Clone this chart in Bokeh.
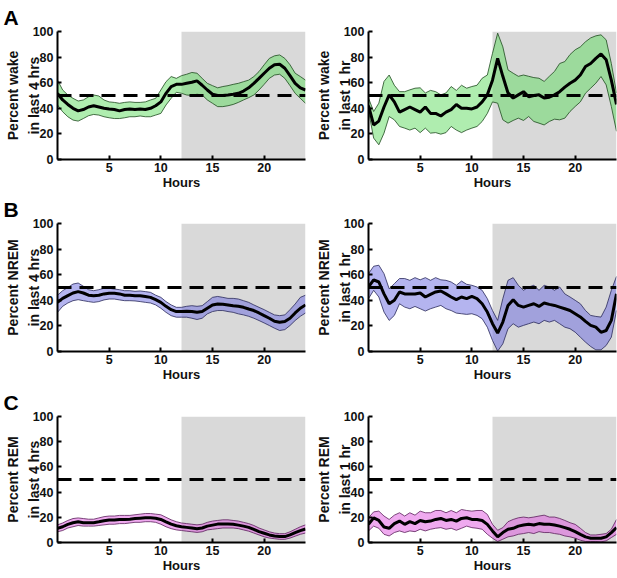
from bokeh.plotting import figure
from bokeh.layouts import column, row
from bokeh.models import FixedTicker, Range1d, Title
from bokeh.embed import file_html
from bokeh.resources import INLINE

# hours sampled every 0.5 h
hours = [i * 0.5 for i in range(49)]
x_ticks = [5, 10, 15, 20]
y_ticks = [0, 20, 40, 60, 80, 100]
dark_start, dark_end = 12, 24
chance_level = 50

wake4_mean = [51.7,46.5,43,40,38,39,41,42,41,40,39.4,39,38,39,39.4,39,39.4,39,40,42,45,51.7,57,58.7,58.7,59.5,60.3,61.4,58,54.3,51,50,50,50.4,51,51.7,53.5,56,59.5,63.4,67.4,71.3,74,74.4,71.3,65.5,59.5,56,54.3]
wake4_hi = [62,54.3,50.4,47.8,45.7,46.5,49,50.4,49.6,46.5,45,44.6,43.9,44.6,45,44.6,44.6,45,46.5,47.8,54.3,60.8,64.8,63.4,65.5,66.6,68,67.4,63.4,59.5,57.7,56,57,57.7,58.7,59.5,60.8,62,64.8,68.7,74,79,81,81.7,79,74,67.4,64.8,62]
wake4_lo = [42.6,37.3,33.4,30.8,30,32,34.2,35.2,34.7,33.4,32.6,32,32,32.6,33.4,33.4,34,33.4,33.4,34.7,36,42.6,47.8,52.5,51.7,50.4,50,51,50.4,46.5,43.9,41.3,41.3,42,43,44.6,46.5,48.3,50.4,54.3,58.7,63.4,66,66.6,63.4,57.7,51.7,47.8,43.9]

wake1_mean = [42,27,30,41,50.5,45,37,39,41,39,37,41,36,36,34,37,39,43,40,40,39.5,41,45,50.5,62,79,65,52,48,50.5,53,49,50,50.5,48,48.7,50.5,53,56.5,59.6,62,66,72.6,75,79,82.5,78,62,43]
wake1_hi = [48,37.5,44,61,66,58,53,53,54.4,55.7,56,52,54,53,50.5,52,57,54,58,55.7,57,58,63.5,66,83,98.7,88,70,67.4,65,66,65,64,63.5,61,65,68.8,75,76.5,82,85.7,88,92,95,96.6,97.4,93.5,75,52]
wake1_lo = [38,16.7,11.5,20.6,33.6,31,25.8,24.5,23,24.5,21,24.5,20.6,21,19.8,21,25.8,23,21,23,24.5,25.8,29.7,36,45,44,31,28.4,30.5,32.3,30.5,33.6,29.7,28.4,27,29.7,31.5,31,32.3,37.5,41.4,45,51.8,55.7,59.6,64.8,58.3,41.4,22]

nrem4_mean = [38.4,41.5,43.6,45.7,46.8,45.7,44,43.6,44,45,45.5,45.5,45,44,44,43.6,43.6,43,42.3,40.5,38.4,35.3,32.7,31.2,31.2,31.4,31.2,30.6,31.2,33.8,36.4,37.1,36.9,36.4,35.8,35.3,34.5,33.2,32,30.1,28,26,23.6,22.9,23.4,26,30.1,33.8,36.4]
nrem4_hi = [44,47.5,50,52.7,53.5,51,48.3,47.5,48.3,49.4,49.4,48.8,48.3,47.5,47.5,47,47.3,46.8,46.2,44,42.3,39,36.4,34.5,34.5,35.3,35.8,35.3,35.8,39,42.3,43,42.3,41.5,41.5,41,39.7,38.4,36.4,34.5,32.7,30.6,28.6,28,28.6,32.7,37.1,42.3,44]
nrem4_lo = [30.6,35.3,37.9,39.7,40.5,39.7,39,38.4,39,40.3,41,41,40.3,39.7,39.7,39.5,39,38.4,37.9,36.4,33.8,30.6,28,26.8,26.8,26.8,26,25,26,29.4,31.2,32,32,31.2,30.6,29.4,28.6,27.5,26,24.2,22.3,20.3,18.2,16.4,17.1,20.3,24.2,27.5,30.1]

nrem1_mean = [50.4,56,54.3,45,37.3,40,46.5,45,45,45,45.7,42.6,44.6,46.5,47.3,45,42.6,40.5,42.6,41.3,43,41.3,37.3,30.8,21.7,14.4,23,36,40.5,36,34.7,36,37.3,35.2,37.9,36.8,36,34.7,33.4,32,29.5,27,23.5,20.4,19,15,16.4,24.3,45]
nrem1_hi = [60.8,66.6,67.4,60.8,49,53,57,57,55.6,57.7,56,57.7,55.6,57.7,56,55.6,54.3,51.7,55,52.5,51.7,50.4,47.8,41.3,32,24.3,41.3,55.6,57.7,51.7,47.8,50.4,51.7,47.8,51.7,50.4,47.8,50.4,45,42.6,40,37.3,32,28.2,27.4,26.9,34.7,47.8,58.7]
nrem1_lo = [41.3,47.8,42.6,30.8,24.3,28.2,37.3,34.7,33.4,35.2,33.4,31.6,33.4,34.7,36,33.4,32,30,29.5,29,29.5,28.2,25.6,19,8.6,0.3,6,17.8,21.7,19,20.4,21.7,23,21.7,24.3,23,24.3,21.7,19,17.8,15.1,11.2,7.3,3.9,1.3,1.3,4.7,11.2,32]

rem4_mean = [11.2,12.5,14.4,15.7,16.4,15.7,15.7,15.7,16.4,17.2,17.8,17.8,18.3,18.3,18.5,19,19.3,19.6,19.6,19.3,18.3,16.4,14.6,13.3,12.5,12,11.5,11,11.5,13,13.8,14.6,14.6,14.6,14.4,13.8,13,12,10.4,8.6,7.3,6,5.2,4.7,4.7,6,7.8,9.4,10.7]
rem4_hi = [14,15.5,17.5,19,19.5,19,18.5,18.5,19.5,20.5,21,21,21.5,21.5,21.5,22,22.5,23,23,22.5,22,20,18,16.5,15.5,15,14.5,14,14.5,16,17,17.5,18,18,17.5,17,16,15,13.5,11.5,10,8.5,7.5,7,7,8.5,10.5,12.5,14]
rem4_lo = [8.5,9.5,11.5,12.5,13.5,13,13,13,13.5,14,14.5,14.5,15,15,15.5,16,16,16.5,16.5,16,14.5,12.5,11,10,9.5,9,8.5,8,8.5,10,10.5,11,11.5,11.5,11.5,11,10,9,7.5,6,4.5,3.5,3,2.5,2.5,3.5,5,6.5,7.5]

rem1_mean = [14.4,19.6,17.5,12.3,11.3,15,17,14.4,16.5,15,17.5,16.5,17,18.3,19.1,17.5,18.3,17,19.1,19.6,18.3,18.3,17.5,14.4,9.2,4.5,7.9,10.5,11.3,13,13.9,14.4,13.9,15,14.4,14.4,13.9,13,11.8,10.5,8.6,6.5,4.5,3.4,3.4,3.4,4.5,7.9,11.8]
rem1_hi = [19.6,24.3,24.9,21,18.3,21.7,23.6,21,23.6,21.7,24.9,23.6,23.6,25.4,25.4,23.6,25.4,23.6,26.2,25.4,24.9,25.4,25.4,22.3,14.4,9.7,11.8,16.5,18.3,19.6,20.2,19.6,20.2,21,21.7,20.2,20.2,19.1,17.5,15.7,14.4,11.3,7.9,6,6,6.5,7.1,10.5,18.3]
rem1_lo = [9.2,13,11.3,6.5,5.2,7.9,9.2,7.9,9.2,8.6,10.5,9.2,10.5,11.3,11.8,10.5,11.3,9.7,11.3,13,11.8,11.3,10.5,6.5,3.4,0.8,2.6,4.5,5.2,6.5,7.1,7.9,7.1,8.6,7.9,7.9,7.1,6.5,5.2,4.5,3.4,1.8,0.8,0.8,0.8,0.5,1.3,3.9,6.5]

FONT = "Liberation Sans"


def panel(mean, hi, lo, fill, edge, ylabel, left, top, frame_h, bottom, letter=None):
    if left:
        w, mbl, mbr = 310, 57, 5
    else:
        w, mbl, mbr = 307, 58, 1
    p = figure(width=w, height=top + frame_h + bottom,
               x_range=Range1d(0, 24), y_range=Range1d(0, 100),
               output_backend="svg", toolbar_location=None,
               min_border_left=mbl, min_border_right=mbr,
               min_border_top=top, min_border_bottom=bottom)
    p.outline_line_color = None
    p.grid.visible = False
    p.quad(left=[dark_start], right=[dark_end], bottom=[0], top=[100],
           fill_color="#d9d9d9", line_color=None)
    p.varea(x=hours, y1=lo, y2=hi, fill_color=fill, fill_alpha=0.5)
    p.line(hours, hi, line_color=edge, line_width=0.8)
    p.line(hours, lo, line_color=edge, line_width=0.8)
    p.line([0, 24], [chance_level, chance_level], line_color="black",
           line_width=3, line_dash="14 8")
    p.line(hours, mean, line_color="black", line_width=3)

    p.xaxis.ticker = FixedTicker(ticks=x_ticks)
    p.yaxis.ticker = FixedTicker(ticks=y_ticks)
    p.xaxis.axis_label = "Hours"
    p.yaxis.axis_label = ylabel
    for ax in (p.xaxis, p.yaxis):
        ax.axis_line_width = 2
        ax.axis_line_color = "black"
        ax.major_tick_in = 4
        ax.major_tick_out = 0
        ax.major_tick_line_width = 2
        ax.major_tick_line_color = "black"
        ax.minor_tick_line_color = None
        ax.major_label_text_font = FONT
        ax.major_label_text_font_style = "bold"
        ax.major_label_text_font_size = "12.5px"
        ax.major_label_text_color = "#111111"
        ax.axis_label_text_font = FONT
        ax.axis_label_text_font_style = "bold"
        ax.axis_label_text_color = "#111111"
    p.xaxis.axis_label_text_font_size = "13px"
    p.yaxis.axis_label_text_font_size = "14px"
    p.yaxis.axis_label_text_line_height = 1.3
    p.xaxis.major_label_standoff = 3
    p.xaxis.axis_label_standoff = 0
    p.yaxis.major_label_standoff = 4
    p.yaxis.axis_label_standoff = -12

    if letter:
        t = Title(text=letter, align="left", offset=-(mbl - 3), standoff=6,
                  text_font=FONT, text_font_style="bold",
                  text_font_size="21px", text_color="black")
        p.add_layout(t, "above")
    return p


GREEN, GREEN_E = "#5fdc5f", "#1e4a1e"
BLUE, BLUE_E = "#6a6ae0", "#2a2a5a"
PINK, PINK_E = "#e055e0", "#5a205a"

rA = row(panel(wake4_mean, wake4_hi, wake4_lo, GREEN, GREEN_E, "Percent wake\nin last 4 hrs", True, 31, 128, 33, "A"),
         panel(wake1_mean, wake1_hi, wake1_lo, GREEN, GREEN_E, "Percent wake\nin last 1 hr", False, 31, 128, 33))
rB = row(panel(nrem4_mean, nrem4_hi, nrem4_lo, BLUE, BLUE_E, "Percent NREM\nin last 4 hrs", True, 31, 128, 34, "B"),
         panel(nrem1_mean, nrem1_hi, nrem1_lo, BLUE, BLUE_E, "Percent NREM\nin last 1 hr", False, 31, 128, 34))
rC = row(panel(rem4_mean, rem4_hi, rem4_lo, PINK, PINK_E, "Percent REM\nin last 4 hrs", True, 30, 127, 34, "C"),
         panel(rem1_mean, rem1_hi, rem1_lo, PINK, PINK_E, "Percent REM\nin last 1 hr", False, 30, 127, 34))

layout = column(rA, rB, rC)
open("out.html", "w").write(file_html(layout, INLINE))
